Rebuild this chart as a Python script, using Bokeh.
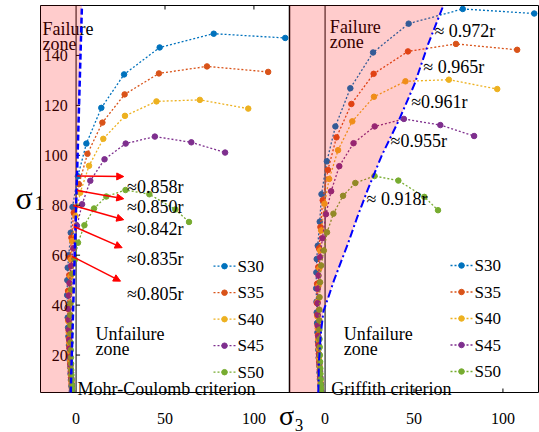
from bokeh.plotting import figure
from bokeh.models import Range1d, Arrow, NormalHead
from bokeh.core.properties import value
from bokeh.embed import file_html
from bokeh.resources import INLINE

FONT = "Liberation Serif"

# ---- data: (sigma3, sigma1) paths of each specimen group ----
series_names = ["S30", "S35", "S40", "S45", "S50"]
series_colors = ["#0072BD", "#D95319", "#EDB120", "#7E2F8E", "#77AC30"]

s30_s3 = [-2.4, -2.6, -2.9, -3.1, -3.3, -3.6, -3.8, -4.0, -4.3, -4.5, -4.7, -4.8, -5.0,
          -4.9, -4.7, -4.1, -3.0, -2.0, 1.0, 5.8, 14.2, 27.0, 47.0, 77.4, 117.6]
s30_s1 = [5.5, 7.5, 10.0, 12.5, 15.0, 18.0, 21.0, 24.0, 27.5, 31.0, 35.0, 39.0, 44.0,
          50.0, 55.0, 60.0, 69.0, 79.3, 91.6, 104.7, 119.0, 132.4, 143.2, 148.7, 147.0]

s35_s3 = [-2.3, -2.5, -2.8, -3.0, -3.3, -3.5, -3.8, -4.0, -4.2, -4.4, -4.6, -4.5,
          -3.8, -3.4, -2.6, -1.3, 1.6, 6.4, 14.8, 27.3, 46.6, 73.6, 108.0]
s35_s1 = [6.0, 8.5, 11.0, 13.5, 16.5, 19.5, 23.0, 26.5, 30.0, 34.0, 38.5, 45.7,
          52.0, 59.0, 67.0, 77.0, 88.4, 100.6, 113.1, 124.4, 132.8, 135.6, 133.4]

s40_s3 = [-2.2, -2.4, -2.6, -2.9, -3.1, -3.4, -3.6, -3.9, -4.1, -4.3, -4.2, -3.7,
          -3.2, -2.8, -2.2, -0.3, 2.3, 7.3, 15.3, 27.5, 45.2, 69.6, 96.8]
s40_s1 = [5.0, 7.0, 9.5, 12.0, 15.0, 18.0, 21.5, 25.0, 29.0, 33.5, 39.0, 45.0,
          51.5, 58.2, 65.7, 75.7, 85.0, 95.8, 106.6, 115.8, 121.6, 122.2, 118.7]

s45_s3 = [-2.1, -2.3, -2.6, -2.8, -3.1, -3.3, -3.6, -3.8, -4.0, -4.1, -4.2, -4.1,
          -3.7, -2.8, -1.5, 0.5, 3.4, 8.0, 16.0, 27.9, 44.3, 64.8, 83.8]
s45_s1 = [5.5, 8.0, 10.5, 13.0, 16.0, 19.0, 22.5, 26.0, 30.0, 34.0, 38.5, 43.9,
          48.8, 55.7, 62.8, 71.8, 80.4, 89.8, 98.4, 104.7, 107.5, 105.2, 101.1]

s50_s3 = [-2.2, -2.3, -2.4, -2.5, -2.6, -2.7, -2.8, -2.9, -3.0, -3.1, -3.2, -3.2, -3.2,
          -3.1, -2.8, -2.2, -0.7, 1.1, 4.7, 10.1, 17.0, 27.8, 41.2, 55.8, 63.5]
s50_s1 = [5.0, 6.5, 8.0, 10.0, 12.0, 14.0, 16.5, 19.0, 22.0, 25.0, 28.5, 32.0, 36.0,
          40.7, 46.3, 52.6, 58.2, 65.0, 72.0, 78.7, 83.5, 86.1, 84.4, 78.3, 73.3]

series_s3 = [s30_s3, s35_s3, s40_s3, s45_s3, s50_s3]
series_s1 = [s30_s1, s35_s1, s40_s1, s45_s1, s50_s1]

# Mohr-Coulomb criterion line (end points)
mc_s3 = [-3.0, 3.3]
mc_s1 = [5.0, 160.0]

# Griffith criterion curve
griffith_s3 = [-3.8, -3.4, -2.4, -0.9, 2.0, 5.0, 9.0, 13.0, 18.0, 24.0, 32.0, 41.5, 50.4, 58.0, 66.5]
griffith_s1 = [5.0, 17.0, 27.0, 35.5, 41.0, 47.0, 54.0, 61.0, 70.5, 81.0, 94.0, 107.0, 120.7, 135.6, 150.0]

# strength ratio annotations
mc_ratio_labels = ["≈0.858r", "≈0.850r", "≈0.842r", "≈0.835r", "≈0.805r"]
mc_label_s3 = [28.7, 28.7, 28.7, 28.7, 28.7]
mc_label_s1 = [87.2, 79.2, 70.5, 58.5, 44.5]
arrow_start_s3 = [0.6, 0.6, -1.6, -1.3, -2.2]
arrow_start_s1 = [91.7, 85.9, 79.9, 71.5, 59.5]
arrow_end_s3 = [26.8, 26.8, 26.8, 25.9, 25.0]
arrow_end_s1 = [91.5, 82.6, 74.2, 63.0, 49.6]

gr_ratio_labels = ["≈ 0.972r", "≈ 0.965r", "≈0.961r", "≈0.955r", "≈ 0.918r"]
gr_label_s3 = [61.5, 55.2, 48.4, 36.8, 23.3]
gr_label_s1 = [140.6, 126.9, 113.9, 99.3, 77.4]

y_ticks = [20, 40, 60, 80, 100, 120, 140]
x_ticks = [0, 50, 100]

# ---- layout constants (pixels) ----
W, H = 539, 432
FL, FR, FT, FB = 40, 538, 5, 392      # plotting box
X0, X1 = -20, 120                     # sigma3 span of each panel
PANEL = X1 - X0
YL = (5, 160)                         # sigma1 span, left panel
YR = (5, 150)                         # sigma1 span, right panel
SX = (FR - FL) / (2 * PANEL)
SYL = (FB - FT) / (YL[1] - YL[0])
SYR = (FB - FT) / (YR[1] - YR[0])

def lx(px):
    return X0 + (px - FL) / SX

def rx(px):
    return lx(px) - PANEL

def ly(py):
    return YL[0] + (FB - py) / SYL

def ry(py):
    return YR[0] + (FB - py) / SYR

# the whole canvas is the frame; the panel boxes are drawn explicitly
p = figure(width=W, height=H, x_range=Range1d(lx(0), lx(W)), y_range=Range1d(ly(H), ly(0)),
           output_backend="svg", toolbar_location=None,
           x_axis_location=None, y_axis_location=None,
           min_border=0, min_border_left=0, min_border_right=0,
           min_border_top=0, min_border_bottom=0)
p.extra_x_ranges = {"r": Range1d(rx(0), rx(W))}
p.extra_y_ranges = {"r": Range1d(ry(H), ry(0))}
p.grid.visible = False
p.outline_line_color = None
p.background_fill_color = "white"
p.border_fill_color = "white"

R = dict(x_range_name="r", y_range_name="r")

# sigma3 = 0 lines in both panels
p.segment(x0=[0], y0=[YL[0]], x1=[0], y1=[YL[1]], line_color="black", line_width=1)
p.segment(x0=[0], y0=[YR[0]], x1=[0], y1=[YR[1]], line_color="black", line_width=1, **R)

# data series, drawn in both panels
for col, xs, ys in zip(series_colors, series_s3, series_s1):
    p.line(xs, ys, line_color=col, line_width=1.3, line_dash="2 2")
    p.scatter(xs, ys, size=5.5, color=col, marker="circle")
    p.line(xs, ys, line_color=col, line_width=1.3, line_dash="2 2", **R)
    p.scatter(xs, ys, size=5.5, color=col, marker="circle", **R)

# white margin below the panels hides marker overflow
p.quad(left=[lx(0)], right=[lx(W)], bottom=[ly(H)], top=[YL[0]],
       fill_color="white", line_color=None)

# panel boxes, divider and ticks
box_x0 = [X0, X0, X0, X1 + PANEL]
box_y0 = [YL[0], YL[1], YL[0], YL[0]]
box_x1 = [X1 + PANEL, X1 + PANEL, X0, X1 + PANEL]
box_y1 = [YL[0], YL[1], YL[1], YL[1]]
p.segment(x0=box_x0, y0=box_y0, x1=box_x1, y1=box_y1, line_color="black", line_width=1)
p.segment(x0=[X1], y0=[YL[0]], x1=[X1], y1=[YL[1]], line_color="black", line_width=1.5)

tick_len = 4
p.segment(x0=[0] * len(y_ticks), y0=y_ticks, x1=[tick_len / SX] * len(y_ticks), y1=y_ticks,
          line_color="black", line_width=1)
inner = [t for t in x_ticks if t > 0]
p.segment(x0=inner, y0=[YL[0]] * len(inner), x1=inner, y1=[YL[0] + tick_len / SYL] * len(inner),
          line_color="black", line_width=1)
p.segment(x0=inner, y0=[YL[1]] * len(inner), x1=inner, y1=[YL[1] - tick_len / SYL] * len(inner),
          line_color="black", line_width=1)
p.segment(x0=inner, y0=[YR[0]] * len(inner), x1=inner, y1=[YR[0] + tick_len / SYR] * len(inner),
          line_color="black", line_width=1, **R)

def add_text(xs, ys, texts, size="18px", align="left", baseline="alphabetic", **kw):
    p.text(x=xs, y=ys, text=texts, text_font=value(FONT), text_font_size=size,
           text_align=align, text_baseline=baseline, text_color="black", **kw)

# tick labels
add_text([-4.7] * len(y_ticks), y_ticks, [str(t) for t in y_ticks], size="16px",
         align="right", baseline="middle")
add_text(x_ticks, [ly(417.5)] * len(x_ticks), [str(t) for t in x_ticks], size="16px",
         align="center")
add_text(x_ticks, [ry(417.5)] * len(x_ticks), [str(t) for t in x_ticks], size="16px",
         align="center", **R)

# axis titles
add_text([lx(15)], [ly(197)], ["σ"], size="32px")
add_text([lx(34)], [ly(202)], ["1"], size="20px")
add_text([lx(291)], [ly(415)], ["σ₃"], size="28px", align="center")

# zone captions
add_text([-18.9, -18.9], [150.7, 144.7], ["Failure", "zone"])
add_text([10.9, 10.9], [28.5, 22.5], ["Unfailure", "zone"])
add_text([0.8], [6.6], ["Mohr-Coulomb criterion"])
add_text([2.7, 2.7], [141.9, 136.3], ["Failure", "zone"], **R)
add_text([10.5, 10.5], [27.0, 21.4], ["Unfailure", "zone"], **R)
add_text([3.5], [6.4], ["Griffith criterion"], **R)

# ratio labels
add_text(mc_label_s3, mc_label_s1, mc_ratio_labels)
add_text(gr_label_s3, gr_label_s1, gr_ratio_labels, **R)

# legends (one per panel)
row_pitch = 26.5
for i, (name, col) in enumerate(zip(series_names, series_colors)):
    pyl = 265.7 + i * row_pitch
    p.segment(x0=[lx(213)], y0=[ly(pyl)], x1=[lx(235)], y1=[ly(pyl)],
              line_color=col, line_width=1.3, line_dash="2 2")
    p.scatter([lx(224)], [ly(pyl)], size=5.5, color=col, marker="circle")
    add_text([lx(237)], [ly(pyl)], [name], size="17px", baseline="middle")
    pyr = 265.0 + i * row_pitch
    p.segment(x0=[rx(450)], y0=[ry(pyr)], x1=[rx(472)], y1=[ry(pyr)],
              line_color=col, line_width=1.3, line_dash="2 2", **R)
    p.scatter([rx(461)], [ry(pyr)], size=5.5, color=col, marker="circle", **R)
    add_text([rx(474)], [ry(pyr)], [name], size="17px", baseline="middle", **R)

# failure zones (translucent red laid over everything beneath)
p.patch([X0, mc_s3[0], mc_s3[1], X0], [YL[0], mc_s1[0], mc_s1[1], YL[1]],
        fill_color="red", fill_alpha=0.2, line_color=None)
p.patch([X0] + griffith_s3 + [X0], [YR[0]] + griffith_s1 + [YR[1]],
        fill_color="red", fill_alpha=0.2, line_color=None, **R)

# criteria
p.line(mc_s3, mc_s1, line_color="blue", line_width=2.5, line_dash="6 3")
p.line(griffith_s3, griffith_s1, line_color="blue", line_width=2, line_dash="8 3 2 3", **R)

# arrows to the ratio labels
for xs0, ys0, xe, ye in zip(arrow_start_s3, arrow_start_s1, arrow_end_s3, arrow_end_s1):
    p.add_layout(Arrow(x_start=xs0, y_start=ys0, x_end=xe, y_end=ye,
                       line_color="red", line_width=1.5,
                       end=NormalHead(size=7, fill_color="red", line_color="red")))

open("out.html", "w").write(file_html(p, INLINE))
